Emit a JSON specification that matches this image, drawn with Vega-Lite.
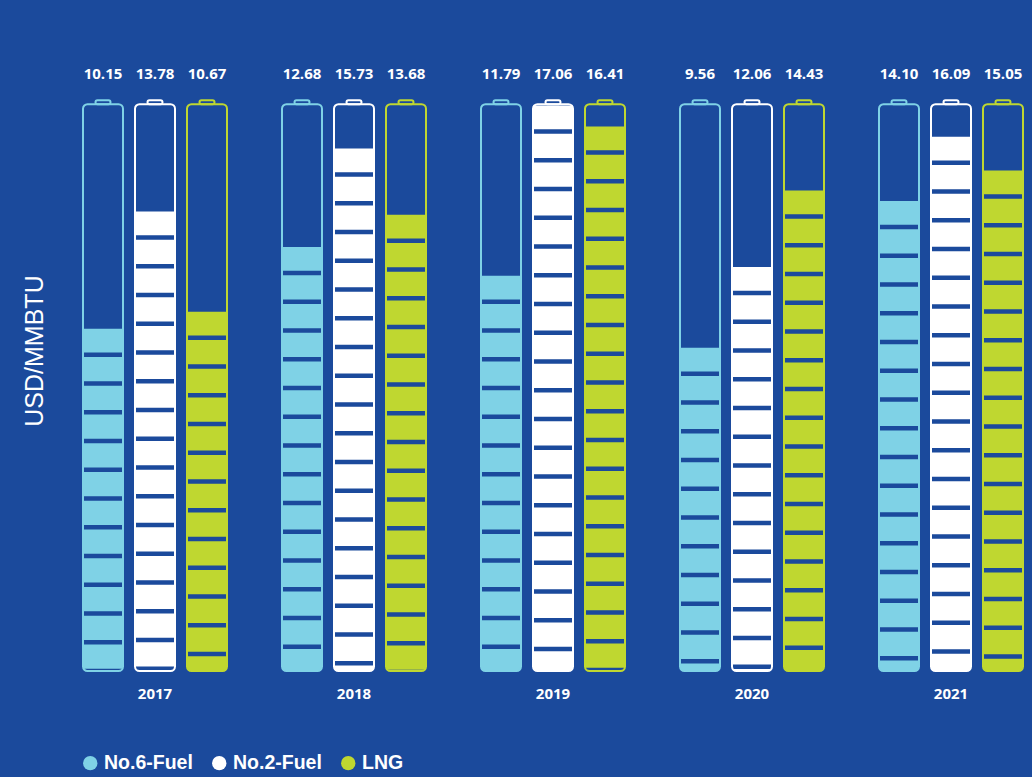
{
  "$schema": "https://vega.github.io/schema/vega-lite/v6.json",
  "autosize": {"type": "none"},
  "width": 976,
  "height": 572,
  "padding": {"left": 55.5, "top": 99, "right": 0.5, "bottom": 106},
  "background": "#1b4a9c",
  "config": {
    "view": {"stroke": null},
    "axisY": {"title": "USD/MMBTU", "titleColor": "white", "titleFont": "Liberation Sans", "titleFontWeight": "normal", "titleFontSize": 25, "titleAngle": -90, "titleX": -13.5, "titleY": 251.5, "titleAlign": "center", "titleBaseline": "alphabetic", "labels": false, "ticks": false, "domain": false, "grid": false}
  },
  "data": {"values": [
    {"year": "2017", "fuel": "No.6-Fuel", "value": 10.15},
    {"year": "2017", "fuel": "No.2-Fuel", "value": 13.78},
    {"year": "2017", "fuel": "LNG", "value": 10.67},
    {"year": "2018", "fuel": "No.6-Fuel", "value": 12.68},
    {"year": "2018", "fuel": "No.2-Fuel", "value": 15.73},
    {"year": "2018", "fuel": "LNG", "value": 13.68},
    {"year": "2019", "fuel": "No.6-Fuel", "value": 11.79},
    {"year": "2019", "fuel": "No.2-Fuel", "value": 17.06},
    {"year": "2019", "fuel": "LNG", "value": 16.41},
    {"year": "2020", "fuel": "No.6-Fuel", "value": 9.56},
    {"year": "2020", "fuel": "No.2-Fuel", "value": 12.06},
    {"year": "2020", "fuel": "LNG", "value": 14.43},
    {"year": "2021", "fuel": "No.6-Fuel", "value": 14.10},
    {"year": "2021", "fuel": "No.2-Fuel", "value": 16.09},
    {"year": "2021", "fuel": "LNG", "value": 15.05}
  ]},
  "encoding": {
    "x": {
      "field": "year", "type": "nominal",
      "scale": {"range": [0, 995], "paddingInner": 0, "paddingOuter": 0},
      "axis": {"title": null, "domain": false, "ticks": false, "tickSize": 0, "labelFont": "Open Sans", "labelFontWeight": "bold", "labelFontSize": 15, "labelColor": "white", "labelPadding": 22.5, "labelBaseline": "middle", "labelAngle": 0}
    },
    "xOffset": {
      "field": "fuel", "type": "nominal",
      "sort": ["No.6-Fuel", "No.2-Fuel", "LNG"],
      "scale": {"paddingInner": 0.2308, "paddingOuter": 0.5289}
    }
  },
  "layer": [
    {
      "mark": {"type": "bar", "width": 40, "cornerRadiusBottomLeft": 4, "cornerRadiusBottomRight": 4},
      "encoding": {
        "y": {"field": "value", "type": "quantitative", "title": "USD/MMBTU", "scale": {"domain": [-0.45, 17.26], "nice": false, "zero": false}},
        "y2": {"datum": -0.45},
        "color": {"field": "fuel", "type": "nominal",
          "scale": {"domain": ["No.6-Fuel", "No.2-Fuel", "LNG"], "range": ["#7fd2e6", "#ffffff", "#bfd730"]},
          "legend": {"orient": "none", "legendX": 25, "legendY": 654, "direction": "horizontal", "title": null, "symbolType": "circle", "symbolSize": 207, "symbolStrokeWidth": 0, "labelFont": "Liberation Sans", "labelFontWeight": "bold", "labelFontSize": 19.5, "labelColor": "white", "columnPadding": 16, "labelOffset": 4, "padding": 0}}
      }
    },
    {
      "mark": {"type": "rule", "color": "#1b4a9c", "strokeWidth": 38, "strokeDash": [4.5, 24.25], "strokeDashOffset": 5, "strokeCap": "butt"},
      "encoding": {
        "y": {"field": "value", "type": "quantitative", "title": "USD/MMBTU", "scale": {"domain": [-0.45, 17.26], "nice": false, "zero": false}},
        "y2": {"datum": -0.45}
      }
    },
    {
      "mark": {"type": "bar", "width": 40, "fill": "transparent", "strokeWidth": 2, "cornerRadius": 4.5},
      "encoding": {
        "y": {"datum": 17.1, "type": "quantitative", "title": "USD/MMBTU", "scale": {"domain": [-0.45, 17.26], "nice": false, "zero": false}},
        "y2": {"datum": -0.45},
        "stroke": {"field": "fuel", "type": "nominal", "scale": {"domain": ["No.6-Fuel", "No.2-Fuel", "LNG"], "range": ["#7fd2e6", "#ffffff", "#bfd730"]}, "legend": null}
      }
    },
    {
      "mark": {"type": "bar", "width": 15, "fill": "transparent", "strokeWidth": 2, "cornerRadius": 2},
      "encoding": {
        "y": {"datum": 17.22, "type": "quantitative", "title": "USD/MMBTU", "scale": {"domain": [-0.45, 17.26], "nice": false, "zero": false}},
        "y2": {"datum": 17.1},
        "stroke": {"field": "fuel", "type": "nominal", "scale": {"domain": ["No.6-Fuel", "No.2-Fuel", "LNG"], "range": ["#7fd2e6", "#ffffff", "#bfd730"]}, "legend": null}
      }
    },
    {
      "mark": {"type": "text", "font": "Open Sans", "fontWeight": "bold", "fontSize": 15, "color": "white", "dy": -25.5, "baseline": "middle"},
      "encoding": {
        "y": {"datum": 17.26, "type": "quantitative", "title": "USD/MMBTU", "scale": {"domain": [-0.45, 17.26], "nice": false, "zero": false}},
        "text": {"field": "value", "type": "quantitative", "format": ".2f"}
      }
    }
  ]
}
